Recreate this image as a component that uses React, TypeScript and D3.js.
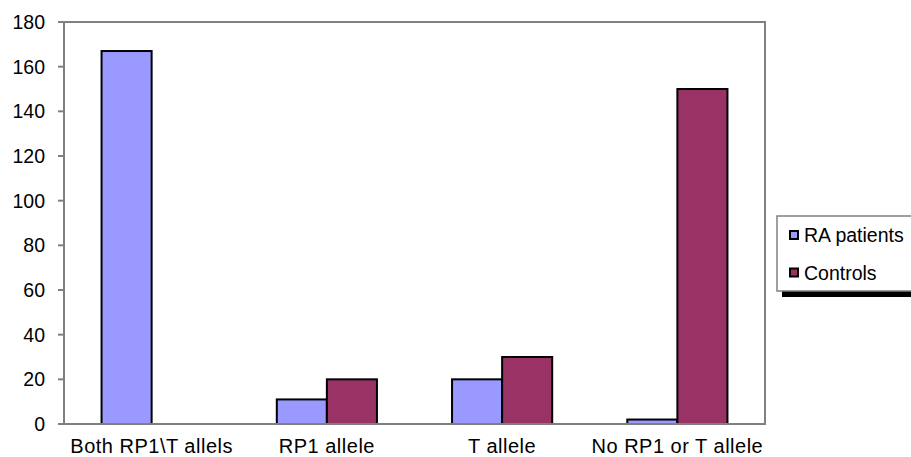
import React from "react";
import { scaleBand, scaleLinear } from "d3";

const categories = ["Both RP1\\T allels", "RP1 allele", "T allele", "No RP1 or T allele"];
const series = ["RA patients", "Controls"];
const raPatients = [167, 11, 20, 2];
const controls = [0, 20, 30, 150];
const yTicks = [0, 20, 40, 60, 80, 100, 120, 140, 160, 180];

const colors = ["#9999FF", "#993366"];
const values = [raPatients, controls];

const W = 911;
const H = 457;
const plot = { left: 64, top: 22, right: 765, bottom: 424 };
const font = "'Liberation Sans', Arial, sans-serif";

export default function App() {
  const x0 = scaleBand().domain(categories).range([plot.left, plot.right]).padding(0);
  const x1 = scaleBand()
    .domain(series)
    .range([0, x0.bandwidth()])
    .paddingInner(0)
    .paddingOuter(0.75);
  const y = scaleLinear().domain([0, 180]).range([plot.bottom, plot.top]);

  return (
    <svg
      width={W}
      height={H}
      style={{ position: "fixed", top: 0, left: 0, background: "#fff" }}
      fontFamily={font}
    >
      {/* plot frame */}
      <rect
        x={plot.left}
        y={plot.top}
        width={plot.right - plot.left}
        height={plot.bottom - plot.top}
        fill="none"
        stroke="#808080"
        strokeWidth={2}
      />

      {/* y ticks */}
      {yTicks.map((t) => (
        <g key={t} transform={`translate(0,${y(t)})`}>
          <line x1={plot.left - 6} x2={plot.left} stroke="#808080" strokeWidth={2} />
          <text x={45} dy="0.36em" textAnchor="end" fontSize={19.5} fill="#000">
            {t}
          </text>
        </g>
      ))}

      {/* bars */}
      {categories.map((c, ci) => (
        <g key={c} transform={`translate(${x0(c)},0)`}>
          {series.map((s, si) => {
            const v = values[si][ci];
            if (!v) return null;
            return (
              <rect
                key={s}
                x={x1(s)}
                y={y(v)}
                width={x1.bandwidth()}
                height={y(0) - y(v)}
                fill={colors[si]}
                stroke="#000"
                strokeWidth={2}
              />
            );
          })}
        </g>
      ))}

      {/* redraw baseline */}
      <line x1={plot.left - 6} x2={plot.right} y1={plot.bottom} y2={plot.bottom} stroke="#808080" strokeWidth={2} />

      {/* category labels */}
      {categories.map((c) => (
        <text
          key={c}
          x={(x0(c) ?? 0) + x0.bandwidth() / 2}
          y={453}
          textAnchor="middle"
          fontSize={20}
          letterSpacing={0.5}
          fill="#000"
        >
          {c}
        </text>
      ))}

      {/* legend */}
      <rect x={782} y={221} width={140} height={76} fill="#000" />
      <rect x={777} y={216} width={140} height={75} fill="#fff" stroke="#808080" strokeWidth={1.5} />
      {series.map((s, i) => (
        <g key={s} transform={`translate(0,${i * 37.5})`}>
          <rect x={790} y={231} width={8} height={8} fill={colors[i]} stroke="#000" strokeWidth={2} />
          <text x={804} y={242} fontSize={19.5} fill="#000">
            {s}
          </text>
        </g>
      ))}
    </svg>
  );
}
